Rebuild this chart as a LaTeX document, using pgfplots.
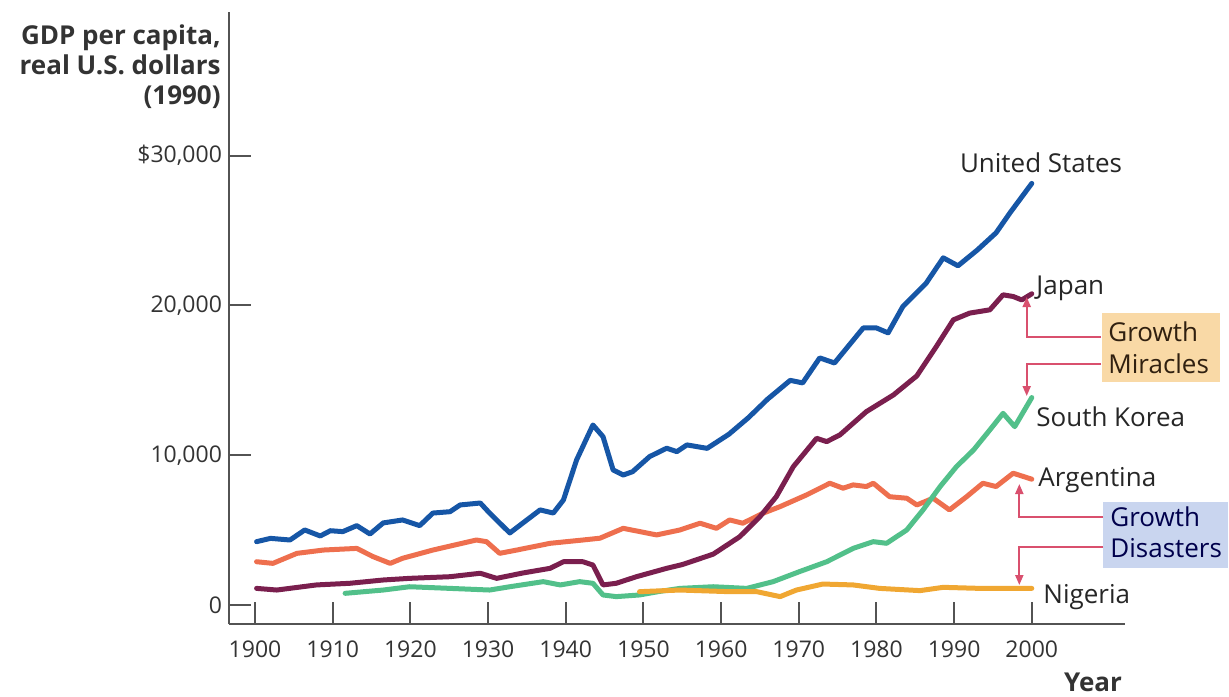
\documentclass[border=0pt]{standalone}
\usepackage{fontspec}
\setmainfont{Open Sans}
\usepackage{pgfplots}
\pgfplotsset{compat=1.18}
\usetikzlibrary{arrows.meta}

\definecolor{usblue}{HTML}{1656A6}
\definecolor{jappurple}{HTML}{7A1F4E}
\definecolor{korgreen}{HTML}{52C08A}
\definecolor{argorange}{HTML}{EE6F4E}
\definecolor{nigyellow}{HTML}{F0A732}
\definecolor{pinkline}{HTML}{D9506E}
\definecolor{miraclebox}{HTML}{F9D9A6}
\definecolor{disasterbox}{HTML}{C9D5EF}
\definecolor{txt}{HTML}{333333}

\begin{document}
% picture laid out in the reference's pixels: 1 px = 0.5pt, y downwards
\begin{tikzpicture}[x=0.5pt, y=-0.5pt, font=\fontsize{13}{15}\selectfont]
\useasboundingbox (0,0) rectangle (1229,696);

\begin{axis}[
  at={(114.5pt,-312pt)}, anchor=south west,
  scale only axis, width=448pt, height=306pt,
  xmin=1896.65, xmax=2012, ymin=-1269, ymax=39595,
  axis x line=bottom, axis y line=left,
  axis line style={-, gray!65!black, line width=1pt},
  tick align=inside, major tick length=11pt,
  tick style={gray!65!black, line width=1pt},
  scaled x ticks=false, scaled y ticks=false,
  xtick={1900,1910,1920,1930,1940,1950,1960,1970,1980,1990,2000},
  xticklabels={1900,1910,1920,1930,1940,1950,1960,1970,1980,1990,2000},
  ytick={0,10000,20000,30000},
  yticklabels={0,{10,000},{20,000},{\$30,000}},
  ticklabel style={font=\fontsize{11.5}{13}\selectfont, text=txt},
  xticklabel style={yshift=-5pt},
  clip=false,
  every axis plot/.append style={line width=2.5pt, line join=round, line cap=round},
]
% Argentina
\addplot[argorange] coordinates {
(1900.2,2890) (1902.3,2780) (1905.4,3450) (1908.8,3670) (1913.1,3780) (1915.2,3230)
(1917.4,2780) (1919,3120) (1922.9,3670) (1928.5,4340) (1929.8,4230) (1931.5,3450)
(1933.7,3670) (1938,4120) (1942.2,4340) (1944.4,4460) (1947.4,5120) (1951.7,4680)
(1954.7,5010) (1957.3,5460) (1959.4,5120) (1961.1,5680) (1962.8,5460) (1965.4,6130)
(1967.6,6570) (1971,7350) (1974,8130) (1975.7,7800) (1977,8020) (1978.7,7910)
(1979.6,8130) (1981.7,7230) (1983.9,7130) (1985.2,6680) (1987.3,7130) (1989.4,6350)
(1991.6,7230) (1993.7,8130) (1995.4,7910) (1997.6,8800) (2000,8400)};
% Japan
\addplot[jappurple] coordinates {
(1900.2,1110) (1902.8,1000) (1907.9,1340) (1912.2,1450) (1916.5,1670) (1919.9,1780)
(1925.1,1890) (1929,2120) (1931.1,1780) (1934.5,2140) (1938,2450) (1939.7,2890)
(1942.2,2890) (1943.5,2670) (1944.8,1340) (1946.5,1450) (1949.1,1890) (1953,2450)
(1955,2700) (1957.3,3100) (1959,3400) (1962.4,4560) (1965,5900) (1967.1,7230)
(1969.3,9240) (1972.3,11130) (1973.6,10910) (1975.3,11360) (1978.7,12910)
(1982.2,14030) (1985.2,15300) (1987.7,17250) (1989.9,19040) (1992,19490)
(1994.6,19710) (1996.3,20710) (1997.6,20600) (1998.7,20370) (2000,20780)};
% South Korea
\addplot[korgreen] coordinates {
(1911.6,780) (1916.5,1000) (1919.9,1220) (1925.1,1110) (1930.2,1000) (1932.8,1220)
(1937.1,1560) (1939.3,1340) (1941.8,1560) (1943.5,1450) (1944.8,670) (1946.5,560)
(1949.5,670) (1952,900) (1954.7,1110) (1959,1220) (1963.3,1110) (1966.7,1560)
(1970.1,2230) (1973.6,2890) (1977,3780) (1979.6,4230) (1981.3,4120) (1983.9,5010)
(1986,6350) (1988.2,7910) (1990.3,9240) (1992.5,10350) (1994.6,11690)
(1996.3,12800) (1997.8,11910) (2000,13850)};
% Nigeria
\addplot[nigyellow] coordinates {
(1949.5,890) (1954.7,1000) (1961.1,890) (1964.6,890) (1967.6,560) (1969.7,1000)
(1973.1,1400) (1977,1340) (1980.4,1110) (1985.6,960) (1988.6,1180) (1993.3,1110)
(2000,1110)};
% United States
\addplot[usblue] coordinates {
(1900.2,4230) (1902,4450) (1904.5,4340) (1906.4,5010) (1908.4,4610) (1909.7,4960)
(1911.3,4900) (1913.1,5300) (1914.8,4740) (1916.5,5480) (1919,5680) (1921.2,5300)
(1922.9,6140) (1925.1,6230) (1926.4,6680) (1929,6810) (1930.2,6140) (1932.8,4810)
(1935,5680) (1936.7,6350) (1938.4,6140) (1939.7,7010) (1941.4,9690) (1943.5,12020)
(1944.8,11240) (1946.1,9020) (1947.4,8680) (1948.6,8900) (1950.8,9910) (1953,10470)
(1954.3,10240) (1955.6,10690) (1958.2,10460) (1961,11400) (1963.5,12500)
(1966,13750) (1968.9,15000) (1970.5,14830) (1972.7,16500) (1974.6,16160)
(1978.3,18500) (1980,18500) (1981.5,18170) (1983.4,19930) (1986.4,21490)
(1988.6,23180) (1990.5,22650) (1993,23710) (1995.4,24850) (1997.2,26190)
(2000,28150)};
\end{axis}

% axis titles
\node[anchor=north east, align=right, inner sep=0pt, text=txt,
      font=\fontsize{13}{15}\selectfont\bfseries] at (221,24)
  {GDP per capita,\\real U.S. dollars\\(1990)};
\node[text=txt, font=\fontsize{13}{15}\selectfont\bfseries] at (1093,682) {Year};

% country labels
\begin{scope}[every node/.style={text=black!85}]
\node at (1041,163) {United States};
\node[anchor=west, inner sep=0pt] at (1036,288) {Japan};
\node[anchor=west, inner sep=0pt] at (1036,417) {South Korea};
\node[anchor=west, inner sep=0pt] at (1038,480) {Argentina};
\node[anchor=west, inner sep=0pt] at (1043,597) {Nigeria};
\end{scope}

% growth miracles
\fill[miraclebox] (1101.7,313.3) rectangle (1220,381.7);
\node[anchor=west, inner sep=0pt, text=black!75!brown] at (1108,331.7) {Growth};
\node[anchor=west, inner sep=0pt, text=black!75!brown] at (1108,363.3) {Miracles};
\draw[pinkline, line width=1pt, -{Triangle[length=5pt, width=4pt]}]
  (1101,336.7) -- (1026.7,336.7) -- (1026.7,297);
\draw[pinkline, line width=1pt, -{Triangle[length=5pt, width=4pt]}]
  (1101,364) -- (1026.7,364) -- (1026.7,396);

% growth disasters
\fill[disasterbox] (1103,501.7) rectangle (1228,568.3);
\node[anchor=west, inner sep=0pt, text=black!70!blue] at (1110,516.7) {Growth};
\node[anchor=west, inner sep=0pt, text=black!70!blue] at (1110,548.3) {Disasters};
\draw[pinkline, line width=1pt, -{Triangle[length=5pt, width=4pt]}]
  (1103,516.7) -- (1019.3,516.7) -- (1019.3,484);
\draw[pinkline, line width=1pt, -{Triangle[length=5pt, width=4pt]}]
  (1103,546.7) -- (1019.3,546.7) -- (1019.3,585);
\end{tikzpicture}
\end{document}
